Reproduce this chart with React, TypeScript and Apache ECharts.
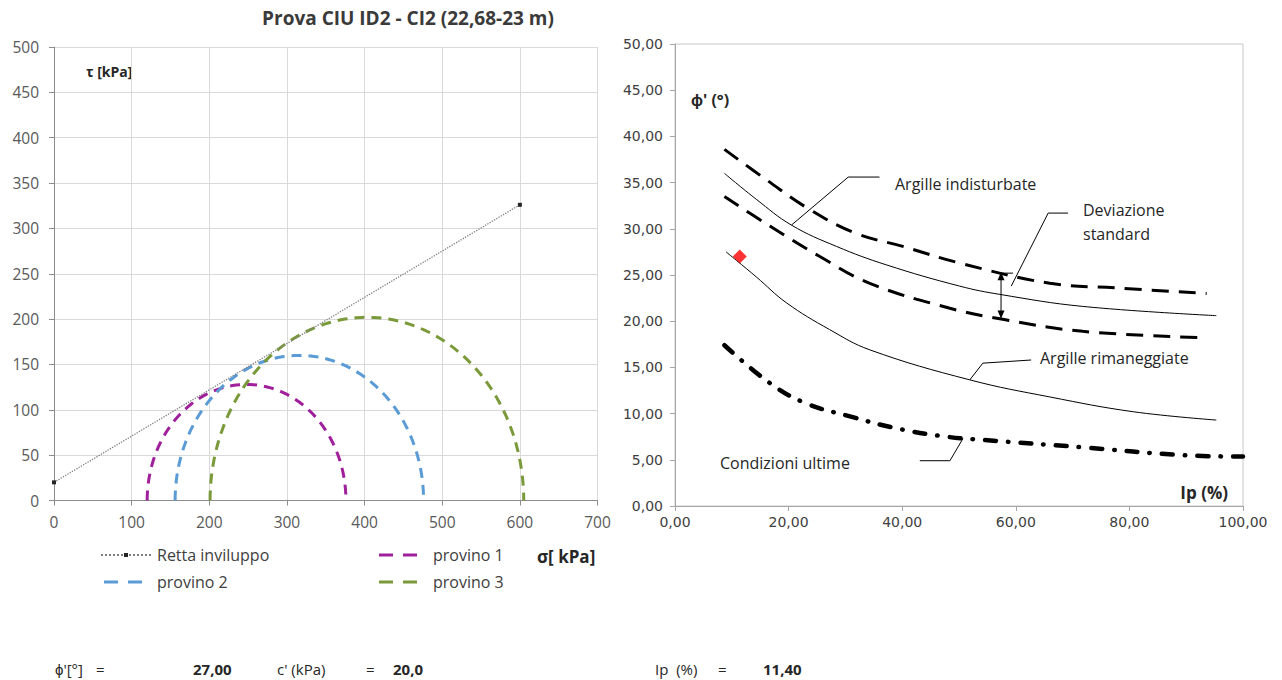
import React, { useEffect, useRef } from "react";
import * as echarts from "echarts";

// ---------- Left chart (Mohr circles) ----------
const envSigma = [0, 600];
const envTau = [20, 326];
const proviniNames = ["provino 1", "provino 2", "provino 3"];
const sigma3 = [120, 156, 201];
const sigma1 = [376, 476, 605];
const proviniColors = ["#a0209c", "#5b9bd5", "#7a9a3a"];

// ---------- Right chart (phi' vs Ip) ----------
const ipUpper = [8.7, 16.1, 23.7, 31.9, 40.1, 50.1, 66.0, 77.7, 93.6];
const phiUpper = [38.6, 35.3, 32.1, 29.5, 28.1, 26.3, 24.1, 23.6, 23.0];
const ipMean = [8.7, 14.3, 20.5, 28.4, 37.2, 50.1, 57.2, 71.8, 95.3];
const phiMean = [36.0, 33.2, 30.4, 28.1, 26.1, 23.8, 22.9, 21.6, 20.6];
const ipLower = [8.7, 16.7, 25.5, 34.3, 48.4, 57.7, 71.8, 93.6];
const phiLower = [33.5, 30.3, 27.0, 24.1, 21.4, 20.2, 18.9, 18.2];
const ipRem = [9.0, 14.3, 19.6, 27.2, 34.3, 51.9, 66.0, 80.7, 95.3];
const phiRem = [27.5, 24.8, 22.0, 19.1, 16.9, 13.65, 11.8, 10.2, 9.3];
const ipUlt = [8.7, 16.7, 23.1, 30.8, 39.0, 47.8, 54.2, 71.8, 89.4, 100];
const phiUlt = [17.4, 13.3, 11.1, 9.7, 8.4, 7.5, 7.15, 6.35, 5.5, 5.35];
const ipSample = [11.4];
const phiSample = [27.0];

// annotation leader lines (data coordinates Ip, phi)
const leaderIndist = [[20.5, 30.4], [30.5, 35.6], [36.0, 35.6]];
const leaderDev = [[59.2, 23.8], [65.7, 31.7], [69.2, 31.7]];
const leaderDevTop = [[57.4, 25.2], [59.5, 25.2]];
const arrowDev = [[57.4, 25.2], [57.4, 20.4]];
const leaderRem = [[51.9, 13.65], [54.2, 15.46], [62.7, 15.8]];
const leaderUlt = [[43.1, 4.9], [48.4, 4.9], [50.7, 7.3]];

// summary values
const phiValue = "27,00";
const cValue = "20,0";
const ipValue = "11,40";

const FONT = "'Open Sans', sans-serif";
const zip = (a: number[], b: number[]) => a.map((v, i) => [v, b[i]]);
const comma2 = (v: number) => v.toFixed(2).replace(".", ",");
const dashIcon = "path://M0,0H14V3H0Z M24,0H38V3H24Z";

export default function App() {
  const ref = useRef<HTMLDivElement>(null);
  useEffect(() => {
    if (!ref.current) return;
    const chart = echarts.init(ref.current, undefined, { renderer: "svg" });

    const leftAxisLabel = { color: "#595959", fontFamily: FONT, fontSize: 15.5 };
    const rightAxisLabel = { color: "#404040", fontFamily: "'DejaVu Sans', sans-serif", fontSize: 14 };

    const leaderSeries = (data: number[][]) => ({
      type: "line",
      xAxisIndex: 1,
      yAxisIndex: 1,
      data,
      symbol: "none",
      silent: true,
      lineStyle: { color: "#000", width: 1 },
      z: 5,
    });

    const legendCommon = {
      orient: "horizontal",
      padding: 0,
      selectedMode: false,
      textStyle: { fontFamily: FONT, fontSize: 16, color: "#404040" },
    };

    const txt = (x: number, y: number, text: string, font: string, extra: any = {}) => ({
      type: "text",
      x,
      y,
      style: { text, font, fill: "#262626", textVerticalAlign: "middle", ...extra },
    });

    const option: any = {
      animation: false,
      backgroundColor: "#fff",
      grid: [
        { left: 54, top: 47, width: 543.5, height: 453.5, show: false },
        { left: 675, top: 44, width: 568, height: 462, show: true, borderColor: "#c8c8c8", borderWidth: 1 },
      ],
      xAxis: [
        {
          gridIndex: 0, type: "value", min: 0, max: 700, interval: 100,
          axisLine: { show: true, lineStyle: { color: "#8c8c8c" } },
          axisTick: { show: true, length: 5, lineStyle: { color: "#8c8c8c" } },
          axisLabel: { ...leftAxisLabel, margin: 13 },
          splitLine: { show: true, lineStyle: { color: "#d9d9d9" } },
        },
        {
          gridIndex: 1, type: "value", min: 0, max: 100, interval: 20,
          axisLine: { show: true, onZero: false, lineStyle: { color: "#a6a6a6" } },
          axisTick: { show: true, length: 5, lineStyle: { color: "#a6a6a6" } },
          axisLabel: { ...rightAxisLabel, margin: 9, formatter: comma2 },
          splitLine: { show: false },
        },
      ],
      yAxis: [
        {
          gridIndex: 0, type: "value", min: 0, max: 500, interval: 50,
          axisLine: { show: true, lineStyle: { color: "#8c8c8c" } },
          axisTick: { show: true, length: 5, lineStyle: { color: "#8c8c8c" } },
          axisLabel: { ...leftAxisLabel, margin: 15 },
          splitLine: { show: true, lineStyle: { color: "#d9d9d9" } },
        },
        {
          gridIndex: 1, type: "value", min: 0, max: 50, interval: 5,
          axisLine: { show: true, onZero: false, lineStyle: { color: "#a6a6a6" } },
          axisTick: { show: true, length: 5, lineStyle: { color: "#a6a6a6" } },
          axisLabel: { ...rightAxisLabel, margin: 12, formatter: comma2 },
          splitLine: { show: false },
        },
      ],
      legend: [
        { ...legendCommon, left: 100, top: 547, itemWidth: 50, itemHeight: 5, data: [{ name: "Retta inviluppo" }], textStyle: { ...legendCommon.textStyle, padding: [0, 0, 0, 1] } },
        { ...legendCommon, left: 379, top: 547, itemWidth: 38, itemHeight: 3, data: [{ name: "provino 1", icon: dashIcon }], textStyle: { ...legendCommon.textStyle, padding: [0, 0, 0, 11] } },
        { ...legendCommon, left: 104, top: 574, itemWidth: 38, itemHeight: 3, data: [{ name: "provino 2", icon: dashIcon }], textStyle: { ...legendCommon.textStyle, padding: [0, 0, 0, 10] } },
        { ...legendCommon, left: 379, top: 574, itemWidth: 38, itemHeight: 3, data: [{ name: "provino 3", icon: dashIcon }], textStyle: { ...legendCommon.textStyle, padding: [0, 0, 0, 11] } },
      ],
      series: [
        {
          name: "Retta inviluppo",
          type: "line",
          xAxisIndex: 0,
          yAxisIndex: 0,
          data: zip(envSigma, envTau),
          symbol: "rect",
          symbolSize: 4,
          itemStyle: { color: "#262626" },
          lineStyle: { type: "dotted", color: "#7f7f7f", width: 1.3 },
          z: 4,
        },
        ...proviniNames.map((name, i) => ({
          name,
          type: "custom",
          xAxisIndex: 0,
          yAxisIndex: 0,
          data: [[sigma3[i], sigma1[i]]],
          encode: { x: [0, 1], y: 1 },
          itemStyle: { color: proviniColors[i] },
          renderItem: (params: any, api: any) => {
            const s3 = api.value(0);
            const s1 = api.value(1);
            const c = (s1 + s3) / 2;
            const r = (s1 - s3) / 2;
            const pts: number[][] = [];
            for (let a = 180; a >= 0; a -= 2) {
              const t = (a * Math.PI) / 180;
              pts.push(api.coord([c + r * Math.cos(t), r * Math.sin(t)]));
            }
            return {
              type: "polyline",
              shape: { points: pts },
              style: { stroke: proviniColors[i], lineWidth: 3, lineDash: [10, 7], fill: null },
            };
          },
          z: 3,
        })),
        // right chart curves
        {
          name: "dev+", type: "line", xAxisIndex: 1, yAxisIndex: 1, data: zip(ipUpper, phiUpper),
          smooth: 0.4, symbol: "none", lineStyle: { color: "#000", width: 3, type: [17, 10] },
        },
        {
          name: "indisturbate", type: "line", xAxisIndex: 1, yAxisIndex: 1, data: zip(ipMean, phiMean),
          smooth: 0.4, symbol: "none", lineStyle: { color: "#000", width: 1 },
        },
        {
          name: "dev-", type: "line", xAxisIndex: 1, yAxisIndex: 1, data: zip(ipLower, phiLower),
          smooth: 0.4, symbol: "none", lineStyle: { color: "#000", width: 3, type: [17, 10] },
        },
        {
          name: "rimaneggiate", type: "line", xAxisIndex: 1, yAxisIndex: 1, data: zip(ipRem, phiRem),
          smooth: 0.4, symbol: "none", lineStyle: { color: "#000", width: 1 },
        },
        {
          name: "ultime", type: "line", xAxisIndex: 1, yAxisIndex: 1, data: zip(ipUlt, phiUlt),
          smooth: 0.4, symbol: "none",
          lineStyle: { color: "#000", width: 4.5, type: [11, 12, 0.5, 12], cap: "round" },
        },
        {
          name: "campione", type: "scatter", xAxisIndex: 1, yAxisIndex: 1, data: zip(ipSample, phiSample),
          symbol: "diamond", symbolSize: 14, itemStyle: { color: "#ff0000" }, z: 6,
        },
        leaderSeries(leaderIndist),
        leaderSeries(leaderDev),
        leaderSeries(leaderDevTop),
        leaderSeries(leaderRem),
        leaderSeries(leaderUlt),
        {
          type: "line", xAxisIndex: 1, yAxisIndex: 1, silent: true, z: 5,
          data: [
            { value: arrowDev[0], symbol: "triangle", symbolRotate: 0, symbolSize: [7, 8], symbolOffset: [0, 3] },
            { value: arrowDev[1], symbol: "triangle", symbolRotate: 180, symbolSize: [7, 8], symbolOffset: [0, -3] },
          ],
          itemStyle: { color: "#000" },
          lineStyle: { color: "#000", width: 1 },
        },
      ],
      graphic: [
        txt(408, 18, "Prova CIU ID2 - CI2 (22,68-23 m)", `bold 19px ${FONT}`, { fill: "#3a3a3a", textAlign: "center" }),
        txt(86, 71, "τ [kPa]", `bold 14px ${FONT}`),
        txt(537, 556, "σ[ kPa]", `bold 17px ${FONT}`),
        txt(691, 100, "ϕ' (°)", `bold 16px ${FONT}`),
        txt(1228, 492, "Ip (%)", `bold 17px ${FONT}`, { textAlign: "right" }),
        txt(895, 184, "Argille indisturbate", `16px ${FONT}`),
        txt(1083, 210, "Deviazione", `16px ${FONT}`),
        txt(1083, 234, "standard", `16px ${FONT}`),
        txt(1040, 358, "Argille rimaneggiate", `16px ${FONT}`),
        txt(720, 463, "Condizioni ultime", `16px ${FONT}`),
        // summary row
        txt(55, 669, "ϕ'[°]", `15px ${FONT}`),
        txt(96, 669, "=", `15px ${FONT}`),
        txt(193, 669, phiValue, `bold 15px ${FONT}`),
        txt(277, 669, "c' (kPa)", `15px ${FONT}`),
        txt(366, 669, "=", `15px ${FONT}`),
        txt(393, 669, cValue, `bold 15px ${FONT}`),
        txt(655, 669, "Ip  (%)", `15px ${FONT}`),
        txt(718, 669, "=", `15px ${FONT}`),
        txt(763, 669, ipValue, `bold 15px ${FONT}`),
      ],
    };
    chart.setOption(option);
    return () => chart.dispose();
  }, []);

  return (
    <div
      ref={ref}
      style={{ position: "absolute", left: 0, top: 0, width: 1282, height: 680, background: "#fff" }}
    />
  );
}
